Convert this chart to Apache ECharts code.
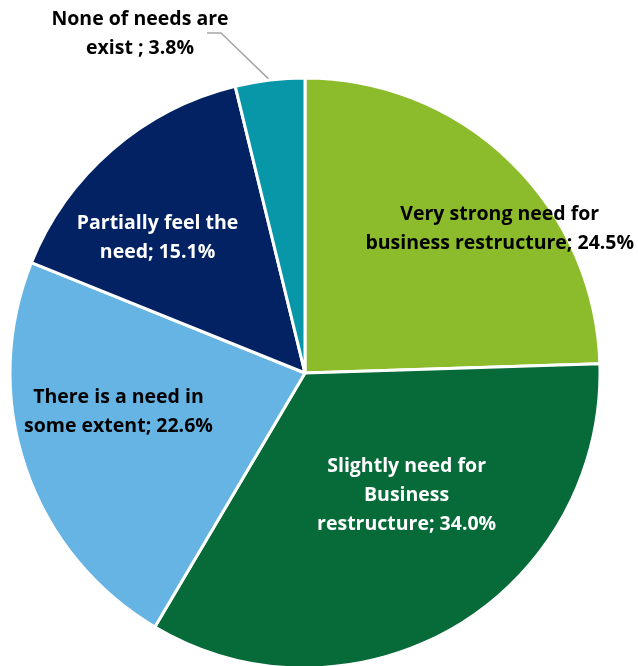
<!DOCTYPE html>
<html>
<head>
<meta charset="utf-8">
<script src="https://cdn.jsdelivr.net/npm/echarts@6/dist/echarts.min.js"></script>
<style>
  html, body { margin: 0; padding: 0; background: #fff; }
  #chart { width: 638px; height: 666px; }
</style>
</head>
<body>
<div id="chart"></div>
<script>
// Perceived need for business restructure (share of respondents, %)
const categories = [
  'Very strong need for\nbusiness restructure',
  'Slightly need for\nBusiness\nrestructure',
  'There is a need in\nsome extent',
  'Partially feel the\nneed',
  'None of needs are\nexist '
];
const shares = [24.5, 34.0, 22.6, 15.1, 3.8];
const sliceColors = ['#8CBC2B', '#066B38', '#65B4E4', '#022264', '#0897A9'];
const labelColors = ['#000000', '#ffffff', '#000000', '#ffffff', '#000000'];
// per-slice nudges of the in-slice labels
const labelOffsets = [[90, -36], [25, -7], [-44, -9], [-49, -21], [0, 0]];

const chart = echarts.init(document.getElementById('chart'), null, { renderer: 'canvas' });

const data = categories.map((name, i) => {
  const item = {
    name: name,
    value: shares[i],
    itemStyle: { color: sliceColors[i] },
    label: {
      color: labelColors[i],
      position: i === 4 ? 'outside' : 'inside',
      offset: labelOffsets[i]
    }
  };
  if (i === 4) {
    item.labelLine = { show: true, lineStyle: { color: '#A6A6A6', width: 1.5 } };
  }
  return item;
});

chart.setOption({
  animation: false,
  series: [{
    type: 'pie',
    center: [305, 373],
    radius: 295,
    startAngle: 90,
    clockwise: true,
    data: data,
    itemStyle: { borderColor: '#ffffff', borderWidth: 3 },
    label: {
      show: true,
      fontFamily: 'Open Sans',
      fontWeight: 'bold',
      fontSize: 19.5,
      lineHeight: 29,
      align: 'center',
      formatter: p => p.name + '; ' + p.value.toFixed(1) + '%'
    },
    labelLine: { show: false },
    labelLayout: function (params) {
      if (params.dataIndex !== 4) return {};
      const start = params.labelLinePoints ? params.labelLinePoints[0] : [272, 81];
      return {
        x: 140,
        y: 34,
        align: 'center',
        verticalAlign: 'middle',
        labelLinePoints: [start, [221, 33], [207, 33]]
      };
    }
  }]
});
</script>
</body>
</html>
